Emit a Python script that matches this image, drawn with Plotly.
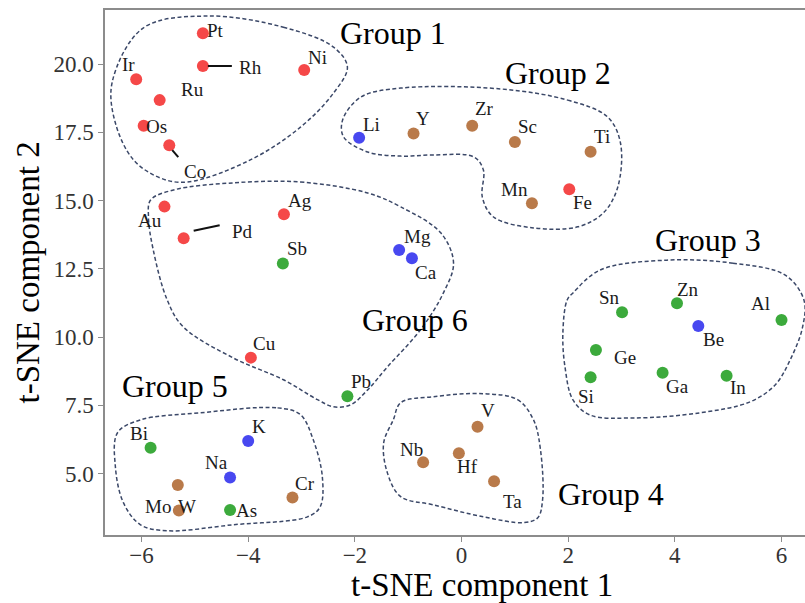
import plotly.graph_objects as go

# ---------------- data ----------------
elements = ["Pt", "Rh", "Ni", "Ir", "Ru", "Os", "Co", "Au", "Pd", "Ag", "Cu", "Fe",
            "Y", "Zr", "Sc", "Ti", "Mn", "V", "Nb", "Hf", "Ta", "Mo", "W", "Cr",
            "Li", "Mg", "Ca", "Be", "K", "Na",
            "Sb", "Sn", "Zn", "Al", "Ge", "Si", "Ga", "In", "Pb", "Bi", "As"]
comp1 = [-4.85, -4.85, -2.95, -6.10, -5.66, -5.96, -5.48, -5.57, -5.21, -3.33, -3.95, 2.02,
         -0.90, 0.20, 1.00, 2.42, 1.32, 0.30, -0.72, -0.05, 0.61, -5.32, -5.30, -3.17,
         -1.92, -1.17, -0.93, 4.44, -4.00, -4.34,
         -3.35, 3.01, 4.04, 6.00, 2.52, 2.42, 3.77, 4.97, -2.14, -5.83, -4.34]
comp2 = [21.13, 19.93, 19.78, 19.44, 18.68, 17.74, 17.03, 14.78, 13.62, 14.50, 9.25, 15.42,
         17.46, 17.74, 17.15, 16.79, 14.90, 6.72, 5.42, 5.75, 4.72, 4.59, 3.65, 4.13,
         17.30, 13.19, 12.89, 10.41, 6.20, 4.86,
         12.70, 10.91, 11.24, 10.63, 9.53, 8.53, 8.70, 8.59, 7.84, 5.95, 3.67]
family = (["red"] * 12) + (["brown"] * 12) + (["blue"] * 6) + (["green"] * 11)

x_ticks = [-6, -4, -2, 0, 2, 4, 6]
y_ticks = [5.0, 7.5, 10.0, 12.5, 15.0, 17.5, 20.0]

group_names = ["Group 1", "Group 2", "Group 3", "Group 4", "Group 5", "Group 6"]
group_label_x = [-1.29, 1.80, 4.63, 2.80, -5.37, -0.88]
group_label_y = [21.13, 19.67, 13.56, 4.27, 8.22, 10.63]

# group boundary outlines (data coordinates)
g1_x = [-4.77, -3.34, -2.40, -2.14, -2.40, -3.02, -3.96, -5.14, -5.65, -6.15, -6.49, -6.55, -5.97]
g1_y = [21.76, 21.35, 20.62, 19.89, 18.94, 17.69, 16.49, 15.68, 15.83, 16.49, 17.84, 19.34, 21.32]
g2_x = [0.73, 1.99, 2.74, 2.98, 2.93, 2.66, 2.18, 1.35, 0.60, 0.39, 0.41, 0.23, -0.53, -1.14,
        -1.76, -2.21, -2.23, -1.89, -1.14]
g2_y = [19.09, 18.68, 18.06, 17.11, 15.50, 14.55, 14.04, 14.00, 14.40, 15.13, 16.12, 16.60, 16.67,
        16.63, 16.78, 17.33, 17.95, 18.79, 19.12]
g3_x = [3.85, 5.09, 6.07, 6.42, 6.39, 6.16, 5.88, 5.41, 4.47, 3.22, 2.41, 2.09, 1.94, 1.90, 1.98,
        2.09, 2.60]
g3_y = [12.82, 12.71, 12.27, 11.36, 10.33, 9.16, 8.25, 7.63, 7.23, 7.04, 7.15, 7.70, 8.91, 10.15,
        11.36, 11.62, 12.46]
g4_x = [0.41, 1.05, 1.35, 1.48, 1.52, 1.43, 1.16, 0.41, -0.53, -1.14, -1.39, -1.46, -1.28, -1.14,
        -0.53]
g4_y = [7.93, 7.71, 6.97, 5.88, 4.05, 3.39, 3.21, 3.42, 3.86, 4.16, 5.03, 6.13, 6.97, 7.60, 7.82]
g5_x = [-4.90, -3.45, -3.02, -2.78, -2.61, -2.65, -2.89, -4.28, -5.52, -6.02, -6.34, -6.49, -6.45,
        -6.02]
g5_y = [7.23, 7.41, 7.16, 6.24, 4.89, 3.79, 3.42, 3.13, 2.91, 3.13, 3.94, 5.25, 6.50, 6.97]
g6_x = [-4.28, -3.02, -1.76, -1.14, -0.39, -0.15, -0.34, -0.77, -1.39, -1.76, -2.08, -2.40, -2.70,
        -3.34, -4.28, -5.22, -5.52, -5.78, -5.87, -5.83, -5.40]
g6_y = [15.65, 15.68, 15.28, 14.77, 13.82, 12.72, 11.62, 10.27, 8.91, 8.07, 7.52, 7.45, 7.71,
        8.44, 9.24, 10.38, 11.37, 13.19, 14.40, 15.02, 15.39]
boundaries = [(g1_x, g1_y), (g2_x, g2_y), (g3_x, g3_y), (g4_x, g4_y), (g5_x, g5_y), (g6_x, g6_y)]

# ---------------- styles ----------------
COLORS = {"red": "#f54848", "brown": "#b97a4a", "blue": "#4848f0", "green": "#3caa3c"}
SERIF = "Liberation Serif"
LINE_COLOR = "#3b4868"

# label offsets in pixels (dx right, dy down) from marker centre
LABEL_OFFSETS = {
    "Pt": (13, -3), "Rh": (48, 2), "Ni": (13, -13), "Ir": (-8, -15), "Ru": (33, -11),
    "Os": (13, 1), "Co": (26, 26), "Au": (-14, 14), "Pd": (59, -7), "Ag": (16, -14),
    "Cu": (14, -14), "Fe": (13, 13), "Y": (9, -15), "Zr": (12, -17), "Sc": (13, -15),
    "Ti": (11, -15), "Mn": (-17, -14), "V": (10, -16), "Nb": (-12, -13), "Hf": (9, 13),
    "Ta": (18, 20), "Mo": (-20, 22), "W": (8, -4), "Cr": (13, -14), "Li": (12, -13),
    "Mg": (18, -14), "Ca": (14, 14), "Be": (15, 14), "K": (11, -14), "Na": (-14, -15),
    "Sb": (14, -15), "Sn": (-13, -15), "Zn": (11, -14), "Al": (-21, -16), "Ge": (29, 8),
    "Si": (-5, 19), "Ga": (15, 14), "In": (11, 12), "Pb": (14, -15), "Bi": (-12, -14),
    "As": (16, 0),
}
# leader lines in pixels (x0, y0, x1, y1), screen y down
LEADERS = {"Rh": (5, 0, 29, 0), "Pd": (10, -7.6, 36, -13), "Co": (3, 5, 9, 12)}

fig = go.Figure()

for bx, by in boundaries:
    fig.add_trace(go.Scatter(
        x=list(bx) + [bx[0]], y=list(by) + [by[0]], mode="lines",
        line=dict(color=LINE_COLOR, width=1.5, dash="4px,2.5px", shape="spline", smoothing=1.0),
        hoverinfo="skip", showlegend=False))

for fam in ["red", "brown", "blue", "green"]:
    idx = [i for i, f in enumerate(family) if f == fam]
    fig.add_trace(go.Scatter(
        x=[comp1[i] for i in idx], y=[comp2[i] for i in idx], mode="markers",
        marker=dict(size=12, color=COLORS[fam], line=dict(width=0)),
        text=[elements[i] for i in idx], showlegend=False, cliponaxis=False))

annotations = []
for el, xv, yv in zip(elements, comp1, comp2):
    dx, dy = LABEL_OFFSETS[el]
    annotations.append(dict(x=xv, y=yv, xref="x", yref="y", text=el, showarrow=False,
                            xshift=dx, yshift=-dy, xanchor="center", yanchor="middle",
                            font=dict(family=SERIF, size=19, color="#1a1a1a")))

for name, gx, gy in zip(group_names, group_label_x, group_label_y):
    annotations.append(dict(x=gx, y=gy, xref="x", yref="y", text=name, showarrow=False,
                            xanchor="center", yanchor="middle",
                            font=dict(family=SERIF, size=32, color="#000000")))

annotations.append(dict(x=(482 - 105) / 700, y=0, xref="paper", yref="paper",
                        text="t-SNE component 1", showarrow=False, yshift=-50,
                        xanchor="center", yanchor="middle",
                        font=dict(family=SERIF, size=33, color="#000000")))
annotations.append(dict(x=0, y=0.5, xref="paper", yref="paper", text="t-SNE component 2",
                        showarrow=False, xshift=-78, textangle=-90,
                        xanchor="center", yanchor="middle",
                        font=dict(family=SERIF, size=33, color="#000000")))

shapes = []
for el, (x0, y0, x1, y1) in LEADERS.items():
    i = elements.index(el)
    shapes.append(dict(type="line", xref="x", yref="y", xsizemode="pixel", ysizemode="pixel",
                       xanchor=comp1[i], yanchor=comp2[i], x0=x0, x1=x1, y0=-y0, y1=-y1,
                       line=dict(color="#111111", width=2)))

fig.update_layout(
    width=805, height=603, margin=dict(l=105, r=0, t=10, b=68),
    paper_bgcolor="white", plot_bgcolor="white",
    annotations=annotations, shapes=shapes,
    xaxis=dict(range=[-6.685, 6.44], tickvals=x_ticks, showgrid=False, zeroline=False,
               showline=True, linecolor="#8c8c8c", linewidth=1.5, mirror=True,
               ticks="outside", ticklen=5, tickcolor="#8c8c8c", ticklabelstandoff=-6,
               tickfont=dict(family=SERIF, size=23, color="#333333")),
    yaxis=dict(range=[2.755, 21.98], tickvals=y_ticks, tickformat=".1f", showgrid=False,
               zeroline=False, showline=True, linecolor="#8c8c8c", linewidth=1.5,
               mirror=False, ticks="outside", ticklen=5, tickcolor="#8c8c8c",
               tickfont=dict(family=SERIF, size=23, color="#333333")),
)

fig.write_html("out.html")
